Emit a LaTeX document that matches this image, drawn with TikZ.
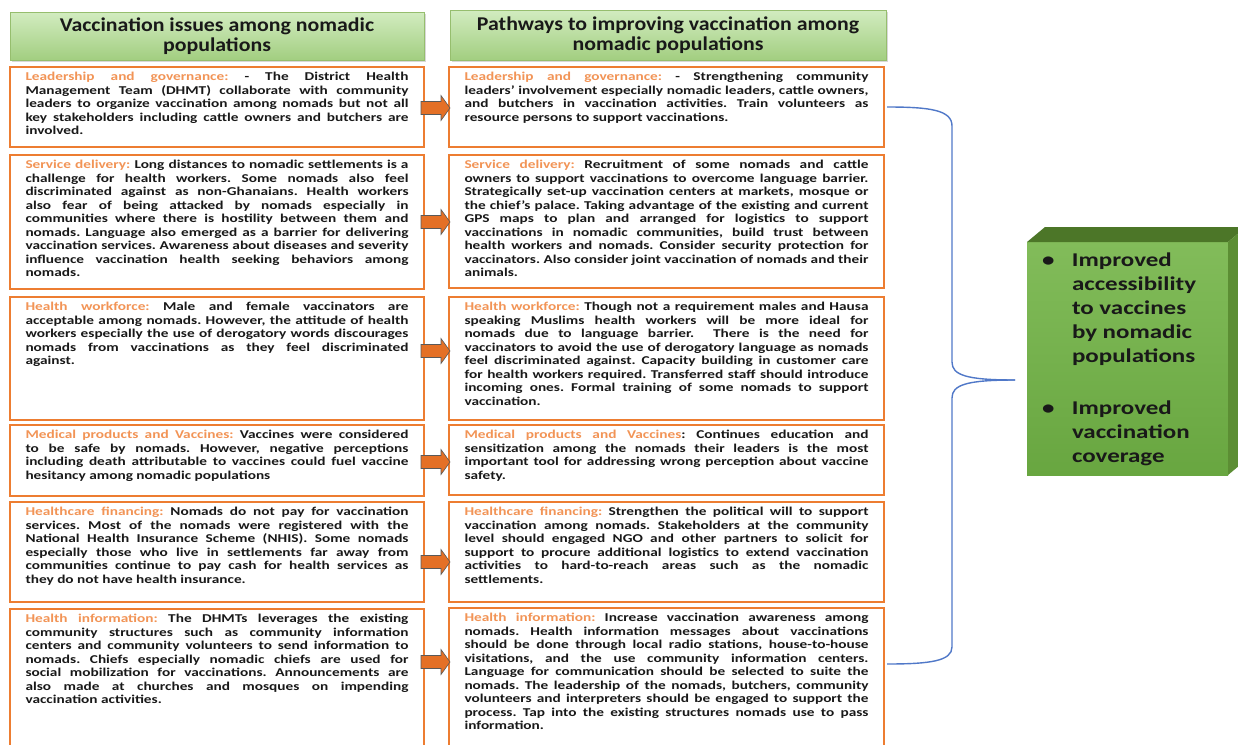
\documentclass[tikz,border=0pt]{standalone}
\usepackage{fontspec}
\setmainfont{Carlito}[FakeStretch=1.28]
\newfontfamily\bodyfont{Carlito}[FakeStretch=1.275]
\newfontfamily\hdfont{Carlito}[FakeStretch=1.12]
\usetikzlibrary{shadows,calc}
\hyphenpenalty=10000
\frenchspacing
\definecolor{boxor}{RGB}{237,125,49}
\definecolor{arrfill}{RGB}{228,112,38}
\definecolor{labor}{RGB}{242,148,86}
\definecolor{txt}{RGB}{25,25,25}
\definecolor{hdtop}{RGB}{210,236,192}
\definecolor{hdbot}{RGB}{162,206,128}
\definecolor{hddraw}{RGB}{150,190,110}
\definecolor{brc}{RGB}{80,120,200}
\definecolor{gfrontA}{RGB}{130,188,90}
\definecolor{gfrontB}{RGB}{104,166,64}
\definecolor{gtopc}{RGB}{76,118,40}
\definecolor{gsidec}{RGB}{92,142,52}
\newcommand\lab[1]{\textcolor{labor}{#1}}
\newcommand\blockarrow[3]{%
  \draw[orarrow] ($(#1.east|-0,#3)+(-3,-6.5)$) -- ($(#2.west|-0,#3)+(-8,-6.5)$)
    -- ($(#2.west|-0,#3)+(-8,-12.5)$) -- ($(#2.west|-0,#3)+(1,0)$)
    -- ($(#2.west|-0,#3)+(-8,12.5)$) -- ($(#2.west|-0,#3)+(-8,6.5)$)
    -- ($(#1.east|-0,#3)+(-3,6.5)$) -- cycle;}
\tikzset{
  every node/.style={inner sep=0pt, outer sep=0pt},
  hdr/.style={draw=hddraw, line width=0.8pt, top color=hdtop, bottom color=hdbot,
    font=\hdfont\fontsize{19.5}{20}\selectfont\bfseries, text=txt, align=center, anchor=north west,
    drop shadow={opacity=0.3, shadow xshift=1.5pt, shadow yshift=-2pt}},
  txtbox/.style={draw=boxor, line width=2pt, fill=white, inner xsep=15.5pt, inner ysep=5.5pt,
    anchor=north west, font=\bodyfont\fontsize{12}{13.5}\selectfont\bfseries, text=txt},
  orarrow/.style={fill=arrfill, draw=black!65, line width=0.6pt},
  bracestyle/.style={draw=brc, line width=1.4pt},
  gfront/.style={top color=gfrontA, bottom color=gfrontB, anchor=north west},
  outtext/.style={anchor=north west, font=\fontsize{19.5}{24}\selectfont\bfseries, text=txt},
}
\begin{document}
\begin{tikzpicture}[x=1pt,y=-1pt]
\useasboundingbox (0,0) rectangle (1238,744);
\fill[white] (0,0) rectangle (1238,744);

% headers
\node[hdr, minimum width=414pt, minimum height=48pt] (HL) at (10,12) {Vaccination issues among nomadic\\populations};
\node[hdr, minimum width=436pt, minimum height=50pt] (HR) at (450,10) {Pathways to improving vaccination among\\nomadic populations};

% left column
\node[txtbox] (L1) at (10,67) {\parbox[t][69pt][t]{383pt}{\lab{Leadership and governance:} - The District Health\linebreak Management Team (DHMT) collaborate with community\linebreak leaders to organize vaccination among nomads but not all\linebreak key stakeholders including cattle owners and butchers are\linebreak involved.}};
\node[txtbox] (L2) at (10,155) {\parbox[t][123pt][t]{383pt}{\lab{Service delivery:} Long distances to nomadic settlements is a\linebreak challenge for health workers. Some nomads also feel\linebreak discriminated against as non-Ghanaians. Health workers\linebreak also fear of being attacked by nomads especially in\linebreak communities where there is hostility between them and\linebreak nomads. Language also emerged as a barrier for delivering\linebreak vaccination services. Awareness about diseases and severity\linebreak influence vaccination health seeking behaviors among\linebreak nomads.}};
\node[txtbox] (L3) at (10,297) {\parbox[t][112pt][t]{383pt}{\lab{Health workforce:} Male and female vaccinators are\linebreak acceptable among nomads. However, the attitude of health\linebreak workers especially the use of derogatory words discourages\linebreak nomads from vaccinations as they feel discriminated\linebreak against.}};
\node[txtbox] (L4) at (10,425) {\parbox[t][60pt][t]{383pt}{\lab{Medical products and Vaccines:} Vaccines were considered\linebreak to be safe by nomads. However, negative perceptions\linebreak including death attributable to vaccines could fuel vaccine\linebreak hesitancy among nomadic populations}};
\node[txtbox] (L5) at (10,502) {\parbox[t][89pt][t]{383pt}{\lab{Healthcare financing:} Nomads do not pay for vaccination\linebreak services. Most of the nomads were registered with the\linebreak National Health Insurance Scheme (NHIS). Some nomads\linebreak especially those who live in settlements far away from\linebreak communities continue to pay cash for health services as\linebreak they do not have health insurance.}};
\node[txtbox] (L6) at (10,609) {\parbox[t][130pt][t]{383pt}{\lab{Health information:} The DHMTs leverages the existing\linebreak community structures such as community information\linebreak centers and community volunteers to send information to\linebreak nomads. Chiefs especially nomadic chiefs are used for\linebreak social mobilization for vaccinations. Announcements are\linebreak also made at churches and mosques on impending\linebreak vaccination activities.}};

% right column
\node[txtbox] (R1) at (449,67) {\parbox[t][69pt][t]{404pt}{\lab{Leadership and governance:} - Strengthening community\linebreak leaders’ involvement especially nomadic leaders, cattle owners,\linebreak and butchers in vaccination activities. Train volunteers as\linebreak resource persons to support vaccinations.}};
\node[txtbox] (R2) at (449,155) {\parbox[t][122pt][t]{404pt}{\lab{Service delivery:} Recruitment of some nomads and cattle\linebreak owners to support vaccinations to overcome language barrier.\linebreak Strategically set-up vaccination centers at markets, mosque or\linebreak the chief’s palace. Taking advantage of the existing and current\linebreak GPS maps to plan and arranged for logistics to support\linebreak vaccinations in nomadic communities, build trust between\linebreak health workers and nomads. Consider security protection for\linebreak vaccinators. Also consider joint vaccination of nomads and their\linebreak animals.}};
\node[txtbox] (R3) at (449,297) {\parbox[t][112pt][t]{404pt}{\lab{Health workforce:} Though not a requirement males and Hausa\linebreak speaking Muslims health workers will be more ideal for\linebreak nomads due to language barrier. \ There is the need for\linebreak vaccinators to avoid the use of derogatory language as nomads\linebreak feel discriminated against. Capacity building in customer care\linebreak for health workers required. Transferred staff should introduce\linebreak incoming ones. Formal training of some nomads to support\linebreak vaccination.}};
\node[txtbox] (R4) at (449,425) {\parbox[t][59pt][t]{404pt}{\lab{Medical products and Vaccines}: Continues education and\linebreak sensitization among the nomads their leaders is the most\linebreak important tool for addressing wrong perception about vaccine\linebreak safety.}};
\node[txtbox] (R5) at (449,502) {\parbox[t][89pt][t]{404pt}{\lab{Healthcare financing:} Strengthen the political will to support\linebreak vaccination among nomads. Stakeholders at the community\linebreak level should engaged NGO and other partners to solicit for\linebreak support to procure additional logistics to extend vaccination\linebreak activities to hard-to-reach areas such as the nomadic\linebreak settlements.}};
\node[txtbox] (R6) at (449,608) {\parbox[t][131pt][t]{404pt}{\lab{Health information:} Increase vaccination awareness among\linebreak nomads. Health information messages about vaccinations\linebreak should be done through local radio stations, house-to-house\linebreak visitations, and the use community information centers.\linebreak Language for communication should be selected to suite the\linebreak nomads. The leadership of the nomads, butchers, community\linebreak volunteers and interpreters should be engaged to support the\linebreak process. Tap into the existing structures nomads use to pass\linebreak information.}};

% arrows
\blockarrow{L1}{R1}{108}
\blockarrow{L2}{R2}{222}
\blockarrow{L3}{R3}{351}
\blockarrow{L4}{R4}{462}
\blockarrow{L5}{R5}{562}
\blockarrow{L6}{R6}{662}

% outcome box (3D)
\node[gfront, minimum width=201pt, minimum height=233pt] (out) at (1027,242) {};
\fill[gtopc] (out.north west) -- ($(out.north west)+(18,-15)$) -- ($(out.north east)+(18,-15)$) -- (out.north east) -- cycle;
\fill[gsidec] (out.north east) -- ($(out.north east)+(18,-15)$) -- ($(out.south east)+(18,-15)$) -- (out.south east) -- cycle;
\node[outtext] (outtxt) at (1042,250) {\begin{tabular}{@{}p{30pt}@{}l@{}}
\textbullet & Improved\\
 & accessibility\\
 & to vaccines\\
 & by nomadic\\
 & populations\\[28pt]
\textbullet & Improved\\
 & vaccination\\
 & coverage
\end{tabular}};

% brace
\coordinate (bt) at (887,107);
\coordinate (bp) at (1015,380);
\coordinate (bb) at (887,664);
\draw[bracestyle] (bt) .. controls (930,107) and (952,110) .. (952,126) -- (952,362) .. controls (952,375) and (966,380) .. (bp);
\draw[bracestyle] (bp) .. controls (966,380) and (952,385) .. (952,398) -- (952,647) .. controls (952,661) and (930,664) .. (bb);
\end{tikzpicture}
\end{document}
